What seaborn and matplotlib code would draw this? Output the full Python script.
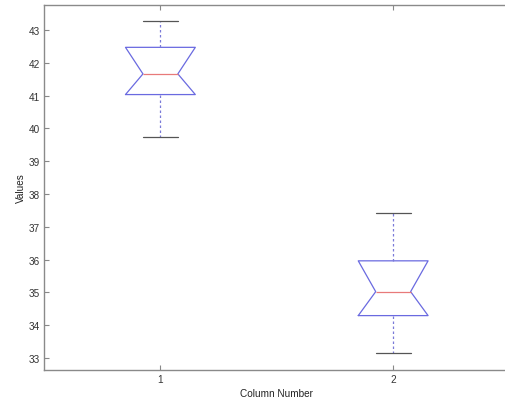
import pandas as pd
import numpy as np
import matplotlib
matplotlib.use("Agg")
import matplotlib.pyplot as plt
import seaborn as sns

# values (one per column)
columns = ["1", "2"]
lower_whisker = [39.73, 33.14]
q1 = [41.03, 34.29]
median = [41.66, 35.02]
q3 = [42.47, 35.96]
upper_whisker = [43.27, 37.42]

rows = []
for i, col in enumerate(columns):
    for v in [lower_whisker[i], q1[i], median[i], q3[i], upper_whisker[i]]:
        rows.append({"column": col, "value": v})
df = pd.DataFrame(rows)

sns.set_style("white")
plt.rcParams["font.family"] = ["Liberation Sans", "DejaVu Sans"]

fig = plt.figure(figsize=(5.06, 4.02), dpi=100)
ax = fig.add_axes([0.087, 0.077, 0.92, 0.908])

blue = "#6a6ae0"
sns.boxplot(data=df, x="column", y="value", order=columns, width=0.3,
            notch=True, fill=False, showfliers=False, whis=1.5, ax=ax,
            boxprops={"color": blue, "linewidth": 0.9},
            medianprops={"color": "#e87a7a", "linewidth": 0.9},
            whiskerprops={"color": "#7a7ad8", "linewidth": 0.9, "linestyle": (0, (2, 2))},
            capprops={"color": "#555555", "linewidth": 0.9})

# MATLAB style notch: slopes run from the box corners straight to the median
for line in ax.lines:
    y = np.asarray(line.get_ydata(), dtype=float)
    if len(y) == 11:
        y[2] = y[0]
        y[9] = y[0]
        y[4] = y[5]
        y[7] = y[5]
        line.set_ydata(y)

ax.set_ylim(32.63, 43.76)
ax.set_xlim(-0.5, 1.5)
ax.set_yticks(range(33, 44))
ax.set_xlabel("Column Number", fontsize=7.2, color="#222222", labelpad=3)
ax.set_ylabel("Values", fontsize=7.2, color="#222222", labelpad=2)
ax.tick_params(direction="in", length=3.5, width=0.8, color="#888888",
               labelsize=7.2, labelcolor="#333333", top=True, right=True,
               left=True, bottom=True, pad=3)
for s in ax.spines.values():
    s.set_visible(True)
    s.set_color("#8a8a8a")
    s.set_linewidth(1.0)

fig.savefig("out.png", dpi=100)
